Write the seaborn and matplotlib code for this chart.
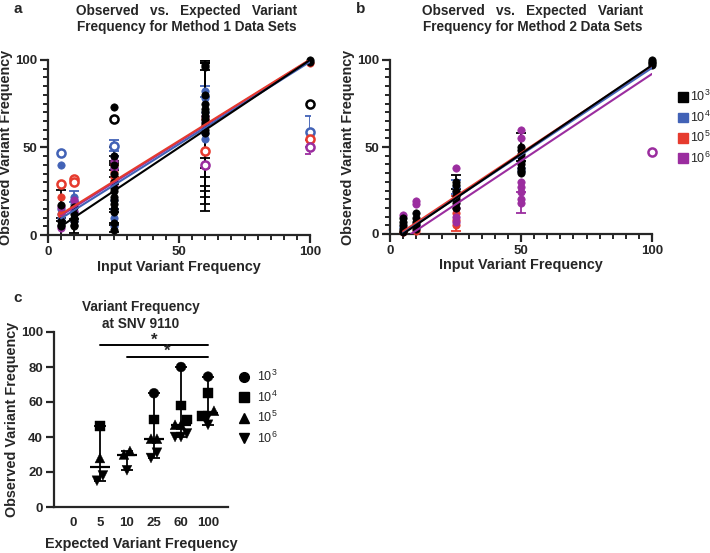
import numpy as np
import pandas as pd
import seaborn as sns
import matplotlib.pyplot as plt
from matplotlib.patches import Patch
from matplotlib.lines import Line2D
from matplotlib.ticker import MultipleLocator

###############################################
##### Data ####################################
###############################################

groups = ["1e3", "1e4", "1e5", "1e6"]
group_labels = [r"$\mathregular{10^3}$", r"$\mathregular{10^4}$",
                r"$\mathregular{10^5}$", r"$\mathregular{10^6}$"]
group_colors = ["#000000", "#4262B6", "#E63B2E", "#9B2D9F"]

# panel a: Method 1 data sets (x = input freq, y = observed, open = hollow marker, sd = error)
a_x = [5, 5, 5, 5, 10, 10, 10, 10, 10, 10,
       25, 25, 25, 25, 25, 25, 25, 25, 25, 25, 25, 25, 25, 25, 25,
       60, 60, 60, 60, 60, 60, 60, 60, 60, 60, 60, 60, 100, 100, 100,
       5, 5, 5, 5, 5, 10, 10, 10, 10, 10, 25, 25, 25, 25, 25, 25, 25, 25,
       60, 60, 60, 60, 60, 60, 100,
       5, 5, 5, 10, 10, 10, 25, 25, 25, 25, 60, 60, 60, 100, 100,
       5, 5, 10, 10, 25, 25, 25, 60, 60, 100]
a_y = [17, 8, 6, 5, 16, 12, 10, 8, 6, 5,
       73, 66, 45, 40, 35, 30, 27, 25, 22, 20, 18, 15, 13, 7, 3,
       97, 96, 80, 75, 72, 70, 68, 66, 64, 62, 60, 58, 100, 99, 75,
       47, 40, 15, 12, 10, 22, 20, 18, 14, 8, 51, 45, 38, 30, 20, 15, 10, 5,
       82, 78, 70, 65, 58, 55, 59,
       29, 22, 12, 32, 30, 16, 40, 36, 33, 31, 48, 66, 63, 98, 55,
       16, 4, 20, 13, 42, 38, 28, 40, 68, 50]
a_grp = (["1e3"] * 40 + ["1e4"] * 25 + ["1e5"] * 15 + ["1e6"] * 10)
a_open = [0, 0, 0, 0, 0, 0, 0, 0, 0, 0,
          0, 1, 0, 0, 0, 0, 0, 0, 0, 0, 0, 0, 0, 0, 0,
          0, 0, 0, 0, 0, 0, 0, 0, 0, 0, 0, 0, 0, 0, 1,
          1, 0, 0, 0, 0, 0, 0, 0, 0, 0, 1, 0, 0, 0, 0, 0, 0, 0,
          0, 0, 0, 0, 0, 0, 1,
          1, 0, 0, 1, 1, 0, 0, 0, 0, 0, 1, 0, 0, 0, 1,
          0, 0, 0, 0, 0, 0, 0, 1, 0, 1]
a_sd = [9, 0, 0, 5, 0, 0, 0, 0, 0, 4,
        0, 0, 5, 0, 6, 15, 0, 12, 20, 13, 0, 0, 0, 0, 3,
        3, 0, 0, 0, 28, 32, 35, 38, 50, 37, 38, 40, 0, 0, 0,
        0, 0, 0, 0, 0, 3, 0, 0, 0, 0, 3, 0, 0, 0, 0, 0, 0, 0,
        3, 0, 0, 0, 0, 0, 9,
        0, 0, 0, 0, 0, 0, 0, 0, 0, 0, 0, 0, 0, 0, 0,
        0, 0, 0, 0, 0, 0, 0, 0, 0, 4]
a_slope = [1.0, 0.942, 0.93, 0.935]
a_intercept = [0.0, 4.8, 7.3, 6.5]

# panel b: Method 2 data sets
b_x = [5, 5, 5, 5, 5, 5, 10, 10, 10, 10, 10,
       25, 25, 25, 25, 25, 25, 25, 50, 50, 50, 50, 50, 50, 50, 50, 50,
       100, 100, 100, 100,
       5, 10, 25, 25, 50, 50,
       5, 10, 25, 25, 25,
       5, 10, 10, 25, 25, 25, 25, 50, 50, 50, 50, 50, 50, 50, 100]
b_y = [9, 7, 5, 3, 2, 1, 12, 9, 7, 5, 3,
       30, 28, 25, 22, 20, 18, 15, 50, 48, 46, 44, 42, 40, 38, 36, 35,
       100, 99, 98, 97,
       4, 6, 27, 24, 38, 36,
       1, 2, 12, 8, 5,
       11, 19, 17, 38, 15, 10, 7, 60, 55, 30, 27, 24, 20, 18, 47]
b_grp = (["1e3"] * 31 + ["1e4"] * 6 + ["1e5"] * 5 + ["1e6"] * 15)
b_open = [0] * 56 + [1]
b_sd = [0, 0, 0, 0, 0, 0, 0, 0, 0, 0, 0,
        4, 0, 0, 0, 0, 0, 0, 8, 0, 0, 0, 0, 0, 0, 0, 0,
        0, 0, 0, 0,
        0, 0, 4, 0, 0, 0,
        0, 0, 10, 0, 0,
        0, 0, 0, 0, 0, 0, 0, 0, 0, 0, 0, 0, 0, 6, 0]
b_slope = [1.02, 1.0, 1.0, 1.0]
b_intercept = [-5.0, -4.5, -3.5, -8.0]

# panel c: SNV 9110
c_categories = ["0", "5", "10", "25", "60", "100"]
c_cat = ["5", "5", "5", "5", "10", "10", "10",
         "25", "25", "25", "25", "25", "25",
         "60", "60", "60", "60", "60", "60", "60", "60",
         "100", "100", "100", "100", "100", "100"]
c_val = [46.5, 28, 18, 15, 32, 30, 21,
         65, 50, 39, 39, 31, 28,
         80, 58, 50, 47, 47, 42, 40, 40,
         74.5, 65, 52, 55, 52, 47]
c_grp = ["1e4", "1e5", "1e6", "1e6", "1e5", "1e5", "1e6",
         "1e3", "1e4", "1e5", "1e5", "1e6", "1e6",
         "1e3", "1e4", "1e4", "1e5", "1e5", "1e6", "1e6", "1e6",
         "1e3", "1e4", "1e4", "1e5", "1e6", "1e6"]
c_markers = {"1e3": "o", "1e4": "s", "1e5": "^", "1e6": "v"}
c_sig = [("5", "100"), ("10", "100")]

###############################################
##### Style ###################################
###############################################

sns.set_style("ticks")
plt.rcParams['font.family'] = ['Liberation Sans', 'DejaVu Sans']
plt.rcParams['mathtext.fontset'] = 'custom'
plt.rcParams['mathtext.rm'] = 'Liberation Sans'
plt.rcParams['axes.linewidth'] = 1.6

palette = dict(zip(groups, group_colors))
LABEL = dict(fontsize=10.4, fontweight='bold')
TITLE = dict(fontsize=9.8, fontweight='bold', ha='center', va='top', linespacing=1.2)


def style_axis(ax):
    ax.tick_params(which='major', direction='out', length=5.5, width=1.6,
                   labelsize=9.5, pad=2.5)
    ax.tick_params(which='minor', direction='out', length=3.5, width=1.4)
    plt.setp(ax.get_xticklabels() + ax.get_yticklabels(), fontweight='bold')
    sns.despine(ax=ax)


def scatter_panel(ax, x, y, grp, hollow, sd, slopes, intercepts):
    df = pd.DataFrame({'x': x, 'y': y, 'grp': grp, 'open': hollow, 'sd': sd})
    draw_order = ["1e4", "1e5", "1e6", "1e3"]
    for g in draw_order:
        d = df[df.grp == g]
        e = d[d.sd > 0]
        if len(e):
            ax.errorbar(e.x, e.y, yerr=e.sd, fmt='none', ecolor=palette[g],
                        elinewidth=1.3, capsize=3.5, capthick=1.3, zorder=2)
        f = d[d.open == 0]
        sns.scatterplot(data=f, x='x', y='y', color=palette[g], s=28,
                        edgecolor=palette[g], linewidth=0.5, ax=ax,
                        legend=False, zorder=3, clip_on=False)
        h = d[d.open == 1]
        if len(h):
            ax.scatter(h.x, h.y, s=34, facecolors='white', edgecolors=palette[g],
                       linewidths=1.8, zorder=4, clip_on=False)
    # linear fits
    for g, m, b in zip(["1e6", "1e5", "1e4", "1e3"], slopes[::-1], intercepts[::-1]):
        x0 = max(5, -b / m)
        xs = np.array([x0, 100])
        ax.plot(xs, m * xs + b, color=palette[g], lw=1.5, zorder=5)
    ax.set_xlim(0, 100)
    ax.set_ylim(0, 100)
    ax.xaxis.set_major_locator(MultipleLocator(50))
    ax.xaxis.set_minor_locator(MultipleLocator(5))
    ax.yaxis.set_major_locator(MultipleLocator(50))
    ax.yaxis.set_minor_locator(MultipleLocator(5))
    ax.set_xlabel("Input Variant Frequency", labelpad=1, **LABEL)
    ax.set_ylabel("Observed Variant Frequency", labelpad=1, **LABEL)
    style_axis(ax)


fig = plt.figure(figsize=(7.1, 5.53), dpi=100)
W, H = 710, 553


def add_axes(x0, y0, x1, y1):
    return fig.add_axes([x0 / W, 1 - y1 / H, (x1 - x0) / W, (y1 - y0) / H])


###############################################
##### Panel a #################################
###############################################

ax_a = add_axes(48, 60, 310, 235)
scatter_panel(ax_a, a_x, a_y, a_grp, a_open, a_sd, a_slope, a_intercept)
fig.text(187 / W, 1 - 4 / H,
         "Observed   vs.   Expected   Variant\nFrequency for Method 1 Data Sets", **TITLE)
fig.text(13 / W, 1 - 2 / H, "a", fontsize=11, fontweight='bold', va='top')

###############################################
##### Panel b #################################
###############################################

ax_b = add_axes(390, 60, 652, 234)
scatter_panel(ax_b, b_x, b_y, b_grp, b_open, b_sd, b_slope, b_intercept)
fig.text(533 / W, 1 - 4 / H,
         "Observed   vs.   Expected   Variant\nFrequency for Method 2 Data Sets", **TITLE)
fig.text(356 / W, 1 - 2 / H, "b", fontsize=11, fontweight='bold', va='top')

handles = [Patch(facecolor=c, edgecolor=c) for c in group_colors]
fig.legend(handles, group_labels, loc='upper left', bbox_to_anchor=(678 / W, 1 - 89 / H),
           frameon=False, fontsize=9, handlelength=0.8, handleheight=0.8,
           handletextpad=0.15, labelspacing=0.42, borderpad=0, borderaxespad=0)

###############################################
##### Panel c #################################
###############################################

ax_c = add_axes(54, 332, 228, 507)
dfc = pd.DataFrame({'cat': c_cat, 'val': c_val, 'grp': c_grp})
dfc['pos'] = dfc.cat.map({c: i for i, c in enumerate(c_categories)}).astype(float)

# spread near-identical values sideways like a column scatter
step = 0.22
for cat, d in dfc.groupby('cat'):
    d = d.sort_values('val')
    clusters, cur = [], [d.index[0]]
    for i0, i1 in zip(d.index[:-1], d.index[1:]):
        if dfc.val[i1] - dfc.val[i0] < 4:
            cur.append(i1)
        else:
            clusters.append(cur)
            cur = [i1]
    clusters.append(cur)
    for cl in clusters:
        offs = (np.arange(len(cl)) - (len(cl) - 1) / 2) * step
        dfc.loc[cl, 'pos'] += offs

sns.scatterplot(data=dfc, x='pos', y='val', style='grp', markers=c_markers,
                color='black', s=50, edgecolor='black', linewidth=0.3, ax=ax_c,
                legend=False, zorder=3, clip_on=False)

stats = dfc.groupby('cat').val.agg(['median', 'min', 'max'])
for cat, r in stats.iterrows():
    p = c_categories.index(cat)
    ax_c.errorbar([p], [r['median']],
                  yerr=[[r['median'] - r['min']], [r['max'] - r['median']]],
                  fmt='none', ecolor='black', elinewidth=1.3, capsize=4.5, capthick=1.3)
    ax_c.hlines(r['median'], p - 0.36, p + 0.36, color='black', lw=1.6)

sig_levels = [92.5, 86]
for (c0, c1), yl in zip(c_sig, sig_levels):
    p0, p1 = c_categories.index(c0), c_categories.index(c1)
    ax_c.plot([p0, p1], [yl, yl], color='black', lw=1.4, clip_on=False)
    ax_c.text((p0 + p1) / 2, yl - 1.5, "*", ha='center', va='bottom',
              fontsize=12, fontweight='bold')

ax_c.set_xlim(-0.7, 5.74)
ax_c.set_ylim(0, 100)
ax_c.set_xticks(range(len(c_categories)))
ax_c.set_xticklabels(c_categories)
ax_c.yaxis.set_major_locator(MultipleLocator(20))
ax_c.set_xlabel("Expected Variant Frequency", labelpad=6, **LABEL)
ax_c.set_ylabel("Observed Variant Frequency", labelpad=1, **LABEL)
style_axis(ax_c)
ax_c.tick_params(axis='x', length=0, pad=7)
ax_c.set_title("Variant Frequency\nat SNV 9110", fontsize=9.8, fontweight='bold',
               pad=3, linespacing=1.25)
fig.text(13 / W, 1 - 291 / H, "c", fontsize=11, fontweight='bold', va='top')

c_handles = [Line2D([], [], marker=c_markers[g], color='black', ls='none', markersize=7)
             for g in groups]
fig.legend(c_handles, group_labels, loc='upper left', bbox_to_anchor=(238 / W, 1 - 369 / H),
           frameon=False, fontsize=9, handlelength=1.0, handletextpad=0.5,
           labelspacing=0.42, borderpad=0, borderaxespad=0)

fig.savefig("out.png", dpi=100)
